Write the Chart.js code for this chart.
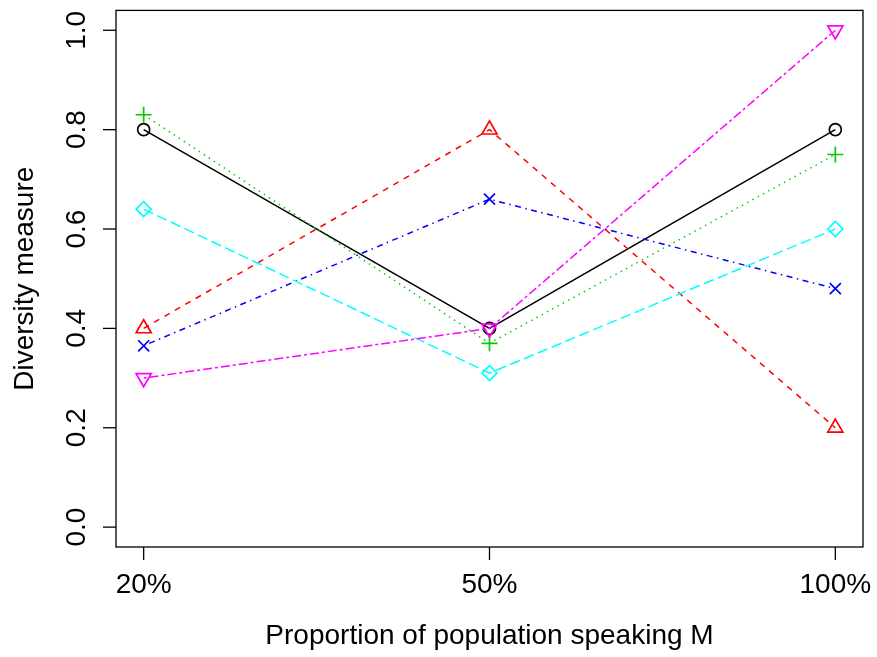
<!DOCTYPE html>
<html>
<head>
<meta charset="utf-8">
<script src="https://cdn.jsdelivr.net/npm/chart.js@4/dist/chart.umd.min.js"></script>
<style>
html,body{margin:0;padding:0;background:#fff;}
#wrap{width:877px;height:657px;position:relative;}
</style>
</head>
<body>
<div id="wrap"><canvas id="c" width="877" height="657"></canvas></div>
<script>
// ---- data ----
const categories = ["20%", "50%", "100%"];
const yTicks = [0.0, 0.2, 0.4, 0.6, 0.8, 1.0];
const seriesBlack   = [0.80, 0.40, 0.80];
const seriesRed     = [0.40, 0.80, 0.20];
const seriesGreen   = [0.83, 0.37, 0.75];
const seriesBlue    = [0.365, 0.66, 0.48];
const seriesCyan    = [0.64, 0.31, 0.60];
const seriesMagenta = [0.30, 0.40, 1.00];
const xTitle = "Proportion of population speaking M";
const yTitle = "Diversity measure";

const FONT = "Liberation Sans, Arial, Helvetica, sans-serif";

function pts(arr){ return arr.map((v,i)=>({x:i+1,y:v})); }

const styles = [
  {data:seriesBlack,   color:"#000000", dash:[],              pstyle:"circle",   r:6,   rot:0},
  {data:seriesRed,     color:"#FF0000", dash:[6,6],           pstyle:"triangle", r:8.7, rot:0},
  {data:seriesGreen,   color:"#00CD00", dash:[1.5,4.5],       pstyle:"cross",    r:8,   rot:0},
  {data:seriesBlue,    color:"#0000FF", dash:[1.5,4.5,6,4.5], pstyle:"crossRot", r:7.8, rot:0},
  {data:seriesCyan,    color:"#00FFFF", dash:[10.5,4.5],      pstyle:"rectRot",  r:7.5, rot:0},
  {data:seriesMagenta, color:"#FF00FF", dash:[3,3,9,3],       pstyle:"triangle", r:8.7, rot:180}
];

const datasets = styles.map((s,i)=>({
  data: pts(s.data),
  borderColor: s.color,
  borderWidth: 1.5,
  borderDash: s.dash,
  pointStyle: s.pstyle,
  pointRadius: s.r,
  pointRotation: s.rot,
  pointBorderColor: s.color,
  pointBackgroundColor: "rgba(0,0,0,0)",
  pointBorderWidth: 1.7,
  pointHoverRadius: s.r,
  tension: 0,
  fill: false,
  order: 6 - i
}));

const axesPlugin = {
  id: "rAxes",
  afterDraw(chart){
    const ctx = chart.ctx;
    const a = chart.chartArea;
    const xs = chart.scales.x, ys = chart.scales.y;
    ctx.save();
    ctx.strokeStyle = "#000";
    ctx.fillStyle = "#000";
    ctx.lineWidth = 1.3;
    ctx.setLineDash([]);
    // box
    ctx.strokeRect(a.left, a.top, a.right - a.left, a.bottom - a.top);
    // x ticks
    ctx.font = "28px " + FONT;
    ctx.textAlign = "center";
    ctx.textBaseline = "alphabetic";
    categories.forEach((c,i)=>{
      const px = xs.getPixelForValue(i+1);
      ctx.beginPath(); ctx.moveTo(px, a.bottom); ctx.lineTo(px, a.bottom + 13); ctx.stroke();
      ctx.fillText(c, px, 593);
    });
    // y ticks
    yTicks.forEach(v=>{
      const py = ys.getPixelForValue(v);
      ctx.beginPath(); ctx.moveTo(a.left, py); ctx.lineTo(a.left - 13, py); ctx.stroke();
      ctx.save();
      ctx.translate(85, py);
      ctx.rotate(-Math.PI/2);
      ctx.fillText(v.toFixed(1), 0, 0);
      ctx.restore();
    });
    // titles
    ctx.fillText(xTitle, (a.left + a.right)/2, 644);
    ctx.save();
    ctx.translate(33, (a.top + a.bottom)/2);
    ctx.rotate(-Math.PI/2);
    ctx.fillText(yTitle, 0, 0);
    ctx.restore();
    ctx.restore();
  }
};

new Chart(document.getElementById("c"), {
  type: "line",
  data: { datasets },
  options: {
    responsive: false,
    animation: false,
    devicePixelRatio: 1,
    layout: { padding: { left: 116, right: 14, top: 7, bottom: 110 } },
    plugins: { legend: { display: false }, tooltip: { enabled: false } },
    scales: {
      x: { type: "linear", min: 0.92, max: 3.08, display: false },
      y: { type: "linear", min: -0.04, max: 1.04, display: false }
    }
  },
  plugins: [axesPlugin]
});
</script>
</body>
</html>
